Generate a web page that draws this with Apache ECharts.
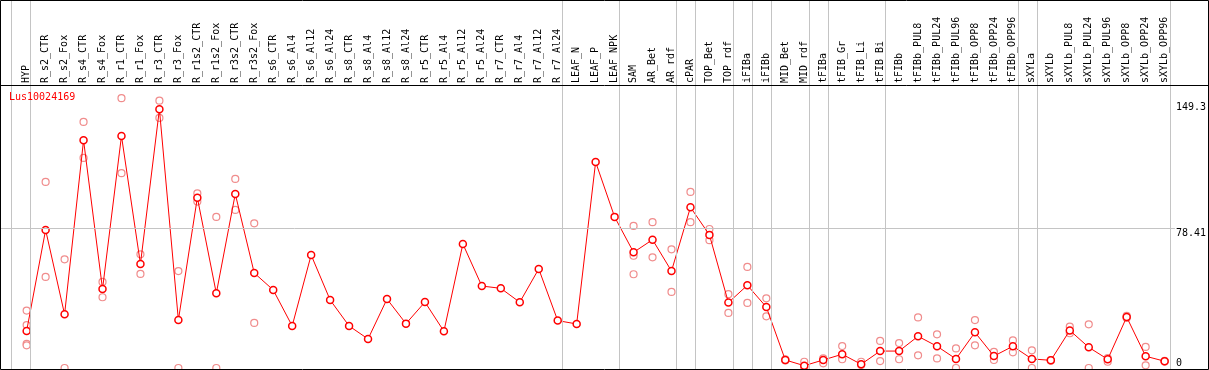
<!DOCTYPE html>
<html>
<head>
<meta charset="utf-8">
<script src="https://cdn.jsdelivr.net/npm/echarts@6/dist/echarts.min.js"></script>
<style>
  html, body { margin: 0; padding: 0; background: #fff; }
  #chart { width: 1209px; height: 370px; }
</style>
</head>
<body>
<div id="chart"></div>
<script>
// ---- data ----
const seriesName = 'Lus10024169';
const categories = ['HYP','R_s2_CTR','R_s2_Fox','R_s4_CTR','R_s4_Fox','R_r1_CTR','R_r1_Fox','R_r3_CTR','R_r3_Fox',
  'R_r1s2_CTR','R_r1s2_Fox','R_r3s2_CTR','R_r3s2_Fox','R_s6_CTR','R_s6_Al4','R_s6_Al12','R_s6_Al24',
  'R_s8_CTR','R_s8_Al4','R_s8_Al12','R_s8_Al24','R_r5_CTR','R_r5_Al4','R_r5_Al12','R_r5_Al24',
  'R_r7_CTR','R_r7_Al4','R_r7_Al12','R_r7_Al24','LEAF_N','LEAF_P','LEAF_NPK','SAM','AR_Bet','AR_rdf',
  'cPAR','TOP_Bet','TOP_rdf','iFIBa','iFIBb','MID_Bet','MID_rdf','tFIBa','tFIB_Gr','tFIB_Li','tFIB_Bi',
  'tFIBb','tFIBb_PUL8','tFIBb_PUL24','tFIBb_PUL96','tFIBb_OPP8','tFIBb_OPP24','tFIBb_OPP96','sXYLa',
  'sXYLb','sXYLb_PUL8','sXYLb_PUL24','sXYLb_PUL96','sXYLb_OPP8','sXYLb_OPP24','sXYLb_OPP96'];
const means = [20.8, 77.5, 30.1, 127.8, 44.3, 130.2, 58.4, 145.2, 26.9,
  95.6, 41.9, 97.7, 53.3, 43.8, 23.6, 63.4, 38.2,
  23.6, 16.3, 38.7, 24.9, 37.0, 20.6, 69.6, 46.0,
  44.7, 36.9, 55.6, 26.6, 24.7, 115.6, 84.8, 64.9, 72.0, 54.4,
  90.2, 74.7, 36.7, 46.4, 34.2, 4.5, 1.3, 4.5, 7.7, 2.1, 9.5,
  9.5, 17.8, 12.2, 5.1, 20.0, 6.7, 12.2, 5.1,
  4.3, 21.1, 11.6, 4.9, 28.6, 6.6, 3.8];
const replicates = [[32.2,24.1,13.5,12.7],[104.4,51.1],[61.0,0],[138.1,117.9],[48.3,39.7],[151.4,109.3],[63.8,52.8],[150.0,140.3],[54.4,0],
  [98.0,93.4],[84.8,0],[106.1,88.7],[81.2,25.3],[],[],[],[],
  [],[],[],[],[],[],[],[],
  [],[],[],[],[],[],[],[79.7,63.0,52.6],[81.8,62.1],[66.6,42.7],
  [98.8,81.8],[78.0,71.7],[41.4,30.9],[56.7,36.5],[39.1,29.0],[4.9,4.2],[3.5,0],[5.4,2.6],[12.3,5.5,4.9],[3.5,1.7],[15.2,3.9],
  [14.0,4.9],[28.4,7.1],[18.9,5.4],[11.0,0],[26.9,12.7],[9.0,4.5],[15.5,8.8],[9.9,0],
  [4.5,4.1],[23.2,19.5],[24.5,0],[5.6,3.5],[29.2,28.1],[11.8,1.5],[4.0,3.6]];
const yTickLabels = [0, 78.41, 149.3];
const groupEnds = [-1, 0, 28, 31, 34, 35, 37, 38, 39, 41, 42, 45, 52, 53, 60];

// ---- build ----
const font = 'DejaVu Sans Mono';
const xMin = -1.3526, xMax = 60.542;
const idx = categories.map((_, i) => i);
const lineData = means.map((v, i) => [i, v]);
const repData = [];
replicates.forEach((arr, i) => arr.forEach(v => repData.push([i, v])));

const chart = echarts.init(document.getElementById('chart'), null, { renderer: 'canvas' });
chart.setOption({
  animation: false,
  backgroundColor: '#fff',
  title: {
    text: seriesName, left: 9, top: 92, padding: 0,
    textStyle: { color: '#ff0000', fontSize: 10, fontWeight: 'normal', fontFamily: font }
  },
  graphic: [
    { type: 'rect', z: 100, silent: true, shape: { x: 0.5, y: 0.5, width: 1208, height: 369 },
      style: { fill: null, stroke: '#000', lineWidth: 1 } },
    { type: 'line', z: 100, silent: true, shape: { x1: 0, y1: 85.5, x2: 1209, y2: 85.5 },
      style: { stroke: '#000', lineWidth: 1 } }
  ],
  grid: [
    { left: 1, right: 32, top: 85, bottom: 1 },
    { left: 1, right: 32, top: 0, bottom: 0 }
  ],
  xAxis: [
    { type: 'value', gridIndex: 0, position: 'top', min: xMin, max: xMax,
      axisLine: { show: false }, axisTick: { show: false }, splitLine: { show: false },
      axisLabel: { customValues: idx, rotate: 90, margin: 2, fontSize: 10, fontFamily: font, color: '#000',
        formatter: v => categories[Math.round(v)] || '' } },
    { type: 'value', gridIndex: 1, min: xMin, max: xMax, show: false }
  ],
  yAxis: [
    { type: 'value', gridIndex: 0, position: 'right', min: -0.56, max: 158.8,
      axisLine: { show: false }, axisTick: { show: false }, splitLine: { show: false },
      axisLabel: { customValues: yTickLabels.slice(1), margin: 1, verticalAlign: 'top', fontSize: 10,
        fontFamily: font, color: '#000', formatter: v => String(v) } },
    { type: 'value', gridIndex: 0, position: 'right', min: -0.56, max: 158.8,
      axisLine: { show: false }, axisTick: { show: false }, splitLine: { show: false },
      axisLabel: { customValues: yTickLabels.slice(0, 1), margin: 1, verticalAlign: 'bottom', fontSize: 10,
        fontFamily: font, color: '#000', formatter: v => String(v) } },
    { type: 'value', gridIndex: 1, min: 0, max: 1, show: false }
  ],
  series: [
    { type: 'line', xAxisIndex: 1, yAxisIndex: 2, data: [], z: 1, silent: true,
      markLine: { silent: true, symbol: 'none', label: { show: false },
        lineStyle: { color: '#c4c4c4', width: 1, type: 'solid' },
        data: groupEnds.map(g => ({ xAxis: g + 0.21 })) } },
    { type: 'scatter', xAxisIndex: 0, yAxisIndex: 0, data: repData, z: 3, symbol: 'circle', symbolSize: 7,
      itemStyle: { color: '#fff', borderColor: '#f08c8c', borderWidth: 1.2, opacity: 1 } },
    { type: 'line', name: seriesName, xAxisIndex: 0, yAxisIndex: 0, data: lineData, z: 4,
      symbol: 'circle', symbolSize: 7, showAllSymbol: true,
      lineStyle: { color: '#ff0000', width: 1 },
      itemStyle: { color: '#fff', borderColor: '#ff0000', borderWidth: 1.5 },
      markLine: { silent: true, symbol: 'none', label: { show: false },
        lineStyle: { color: '#c4c4c4', width: 1, type: 'solid' },
        data: [{ yAxis: yTickLabels[1] }] } }
  ]
});
</script>
</body>
</html>
